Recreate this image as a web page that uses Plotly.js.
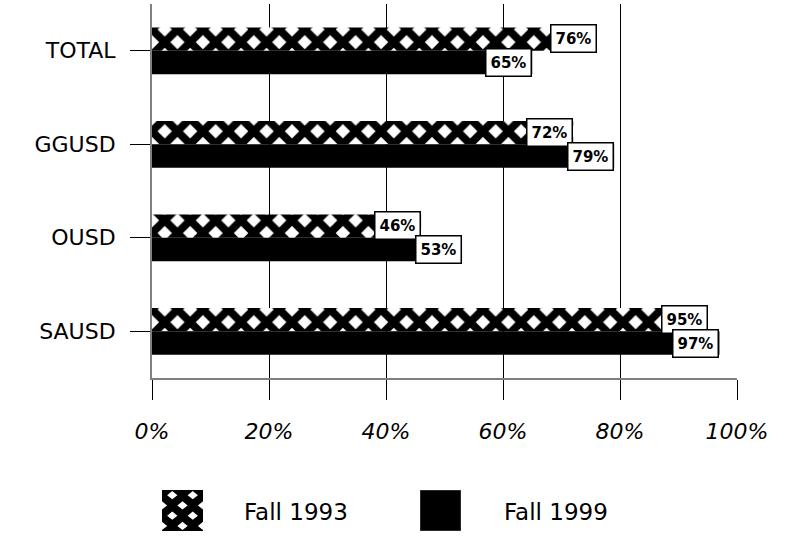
<!DOCTYPE html>
<html>
<head>
<meta charset="utf-8">
<script src="https://cdn.plot.ly/plotly-3.0.1.min.js"></script>
<style>
  html, body { margin: 0; padding: 0; background: #fff; }
  #chart { width: 789px; height: 560px; }
</style>
</head>
<body>
<div id="chart"></div>
<script>
// ---- data ----
const categories = ["TOTAL", "GGUSD", "OUSD", "SAUSD"];
const fall1993 = [76, 72, 46, 95];
const fall1999 = [65, 79, 53, 97];
const seriesNames = ["Fall 1993", "Fall 1999"];
const xTickVals = [0, 20, 40, 60, 80, 100];
const xTickText = ["0%", "20%", "40%", "60%", "80%", "100%"];

const FONT = "DejaVu Sans, Noto Sans, sans-serif";

const traceHatch = {
  type: "bar",
  orientation: "h",
  name: seriesNames[0],
  y: categories,
  x: fall1993,
  marker: {
    color: "#ffffff",
    line: { width: 0 },
    pattern: { shape: "x", fgcolor: "#000000", fgopacity: 1, bgcolor: "#ffffff", size: 18, solidity: 0.68, fillmode: "overlay" }
  },
  hoverinfo: "x+y+name"
};
const traceSolid = {
  type: "bar",
  orientation: "h",
  name: seriesNames[1],
  y: categories,
  x: fall1999,
  marker: { color: "#000000", line: { width: 0 } },
  hoverinfo: "x+y+name"
};

// value labels: boxed, right-aligned at each bar's end
const annotations = [];
[fall1993, fall1999].forEach((vals, si) => {
  vals.forEach((v, i) => {
    annotations.push({
      x: v, y: categories[i], xref: "x", yref: "y",
      text: "<b>" + v + "%</b>",
      showarrow: false,
      xanchor: "right", yanchor: "middle",
      yshift: si === 0 ? 12 : -12,
      font: { family: FONT, size: 15, color: "#000" },
      bgcolor: "#ffffff",
      bordercolor: "#000000",
      borderwidth: 1.5,
      borderpad: 4
    });
  });
});

// custom legend (large swatches)
const hatchSvg =
  '<svg xmlns="http://www.w3.org/2000/svg" width="40" height="40" viewBox="0 0 40 40">' +
  '<rect width="40" height="40" fill="black"/>' +
  '<g fill="white">' +
  '<polygon points="10,1 15,5 10,9 5,5"/>' +
  '<polygon points="30,1 35,5 30,9 25,5"/>' +
  '<polygon points="0,11 5,15 0,19"/>' +
  '<polygon points="20,11 25,15 20,19 15,15"/>' +
  '<polygon points="40,11 35,15 40,19"/>' +
  '<polygon points="10,21 15,25 10,29 5,25"/>' +
  '<polygon points="30,21 35,25 30,29 25,25"/>' +
  '<polygon points="0,31 5,35 0,39"/>' +
  '<polygon points="20,31 25,35 20,39 15,35"/>' +
  '<polygon points="40,31 35,35 40,39"/>' +
  '</g></svg>';
const solidSvg =
  '<svg xmlns="http://www.w3.org/2000/svg" width="40" height="40" viewBox="0 0 40 40">' +
  '<rect width="40" height="40" fill="black" stroke="#555" stroke-width="1"/></svg>';
const toUri = s => "data:image/svg+xml;charset=utf-8," + encodeURIComponent(s);

const images = [
  { source: toUri(hatchSvg), xref: "paper", yref: "paper", x: 0.0171, y: -0.2995, sizex: 0.0701, sizey: 0.1096, xanchor: "left", yanchor: "top", sizing: "stretch", layer: "above" },
  { source: toUri(solidSvg), xref: "paper", yref: "paper", x: 0.4581, y: -0.2995, sizex: 0.0701, sizey: 0.1096, xanchor: "left", yanchor: "top", sizing: "stretch", layer: "above" }
];
// legend labels
annotations.push(
  { xref: "paper", yref: "paper", x: 0.1538, y: -0.358, text: seriesNames[0], showarrow: false, xanchor: "left", yanchor: "middle", font: { family: FONT, size: 23, color: "#000" } },
  { xref: "paper", yref: "paper", x: 0.5983, y: -0.358, text: seriesNames[1], showarrow: false, xanchor: "left", yanchor: "middle", font: { family: FONT, size: 23, color: "#000" } }
);

const layout = {
  width: 789, height: 560,
  margin: { l: 152, r: 52, t: 4, b: 182 },
  paper_bgcolor: "#ffffff",
  plot_bgcolor: "#ffffff",
  barmode: "group",
  bargap: 0.5,
  bargroupgap: 0,
  showlegend: false,
  xaxis: {
    range: [0, 100],
    tickvals: xTickVals,
    ticktext: xTickText,
    showgrid: true,
    gridcolor: "#000000",
    gridwidth: 1,
    zeroline: false,
    showline: true,
    linecolor: "#808080",
    linewidth: 2,
    ticks: "outside",
    ticklen: 20,
    tickcolor: "#000000",
    tickwidth: 1,
    ticklabelstandoff: 13,
    tickfont: { family: FONT, size: 22, color: "#000", style: "italic" },
    fixedrange: true
  },
  yaxis: {
    type: "category",
    categoryorder: "array",
    categoryarray: categories,
    autorange: "reversed",
    showgrid: false,
    zeroline: false,
    showline: true,
    linecolor: "#808080",
    linewidth: 2,
    ticks: "outside",
    ticklen: 20,
    tickcolor: "#000000",
    tickwidth: 1,
    ticklabelstandoff: 10,
    tickfont: { family: FONT, size: 22, color: "#000" },
    fixedrange: true
  },
  annotations: annotations,
  images: images
};

Plotly.newPlot("chart", [traceHatch, traceSolid], layout, { displayModeBar: false, staticPlot: true });
</script>
</body>
</html>
